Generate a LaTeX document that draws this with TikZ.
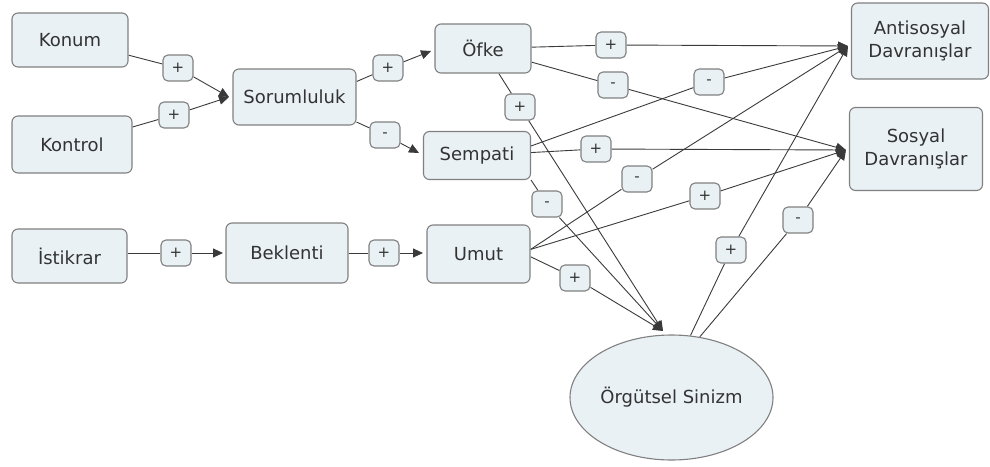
\documentclass[tikz,border=0pt]{standalone}
\usepackage{fontspec}
\setmainfont{DejaVu Sans}
\usetikzlibrary{arrows.meta,shapes.geometric}
\definecolor{boxfill}{HTML}{E9F1F5}
\definecolor{boxdraw}{HTML}{808080}
\definecolor{linec}{HTML}{3A3A3A}
\definecolor{txt}{HTML}{333333}
\pgfdeclarelayer{bg}
\pgfsetlayers{bg,main}
\begin{document}
\begin{tikzpicture}[x=1pt,y=-1pt,
  cbox/.style={draw=boxdraw,fill=boxfill,rounded corners=6pt,line width=1.1pt,inner sep=0pt,text=txt,font=\fontsize{18}{23}\selectfont,align=center},
  lbl/.style={draw=boxdraw,fill=boxfill,rounded corners=5pt,line width=1.1pt,minimum width=30pt,minimum height=26pt,inner sep=0pt,text=txt,font=\fontsize{15}{15}\selectfont},
  conn/.style={draw=linec,line width=0.9pt},
  arr/.style={conn,-{Triangle[length=10pt,width=9pt]}}]
\useasboundingbox (0,0) rectangle (990,466);
% concept nodes
\node[cbox,minimum width=116pt,minimum height=54pt] (konum) at (70,40) {Konum};
\node[cbox,minimum width=120pt,minimum height=57pt] (kontrol) at (72,144.5) {Kontrol};
\node[cbox,minimum width=123pt,minimum height=56pt] (sor) at (294.5,97) {Sorumluluk};
\node[cbox,minimum width=96pt,minimum height=49pt] (ofke) at (483,48.5) {Öfke};
\node[cbox,minimum width=107pt,minimum height=48pt] (semp) at (477,155.5) {Sempati};
\node[cbox,minimum width=115pt,minimum height=54pt] (ist) at (69.5,256) {İstikrar};
\node[cbox,minimum width=122pt,minimum height=60pt] (bek) at (287,253) {Beklenti};
\node[cbox,minimum width=103pt,minimum height=58pt] (umut) at (478.5,254) {Umut};
\node[cbox,minimum width=137pt,minimum height=76pt] (anti) at (920,41) {Antisosyal\\Davranışlar};
\node[cbox,minimum width=133pt,minimum height=83pt] (sos) at (916,149) {Sosyal\\Davranışlar};
\node[cbox,ellipse,minimum width=203pt,minimum height=125pt] (sin) at (671.5,397.5) {Örgütsel Sinizm};
% arrow tip points
\coordinate (sorIn) at (229,97);
\coordinate (ofkeIn) at (431,51);
\coordinate (sempIn) at (419,153);
\coordinate (bekIn) at (223,253);
\coordinate (umutIn) at (423,253);
\coordinate (antiIn) at (848,46);
\coordinate (sosIn) at (846,150);
\coordinate (sinIn) at (663,331);
% labels
\node[lbl] (l1) at (178,68) {+};
\node[lbl] (l2) at (174,115) {+};
\node[lbl] (l3) at (388,68) {+};
\node[lbl] (l4) at (385,135) {-};
\node[lbl] (l5) at (611,45) {+};
\node[lbl] (l6) at (613,85) {-};
\node[lbl] (l7) at (520,107) {+};
\node[lbl] (l8) at (709,82) {-};
\node[lbl] (l9) at (596,149) {+};
\node[lbl] (l10) at (547,204) {-};
\node[lbl] (l11) at (637,179) {-};
\node[lbl] (l12) at (705,196) {+};
\node[lbl] (l13) at (575,278) {+};
\node[lbl] (l14) at (731,250) {+};
\node[lbl] (l15) at (798,220) {-};
\node[lbl] (l16) at (176,253) {+};
\node[lbl] (l17) at (384,253) {+};
\begin{pgfonlayer}{bg}
\draw[conn] (konum) -- (l1); \draw[arr] (l1) -- (sorIn);
\draw[conn] (kontrol) -- (l2); \draw[arr] (l2) -- (sorIn);
\draw[conn] (sor.14) -- (l3); \draw[arr] (l3) -- (ofkeIn);
\draw[conn] (sor.-22) -- (l4); \draw[arr] (l4) -- (sempIn);
\draw[conn] (ofke) -- (l5); \draw[arr] (l5) -- (antiIn);
\draw[conn] (ofke) -- (l6); \draw[arr] (l6) -- (sosIn);
\draw[conn] (ofke) -- (l7); \draw[arr] (l7) -- (sinIn);
\draw[conn] (semp.10) -- (l8); \draw[arr] (l8) -- (antiIn);
\draw[conn] (semp) -- (l9); \draw[arr] (l9) -- (sosIn);
\draw[conn] (semp.south east) -- (l10); \draw[arr] (l10) -- (sinIn);
\draw[conn] (umut.5) -- (l11); \draw[arr] (l11) -- (antiIn);
\draw[conn] (umut.5) -- (l12); \draw[arr] (l12) -- (sosIn);
\draw[conn] (umut.-3) -- (l13); \draw[arr] (l13) -- (sinIn);
\draw[conn] (sin.73) -- (l14); \draw[arr] (l14) -- (antiIn);
\draw[conn] (sin.65) -- (l15); \draw[arr] (l15) -- (sosIn);
\draw[conn] (ist.east |- l16) -- (l16); \draw[arr] (l16) -- (bekIn);
\draw[conn] (bek.east |- l17) -- (l17); \draw[arr] (l17) -- (umutIn);
\end{pgfonlayer}
\end{tikzpicture}
\end{document}
